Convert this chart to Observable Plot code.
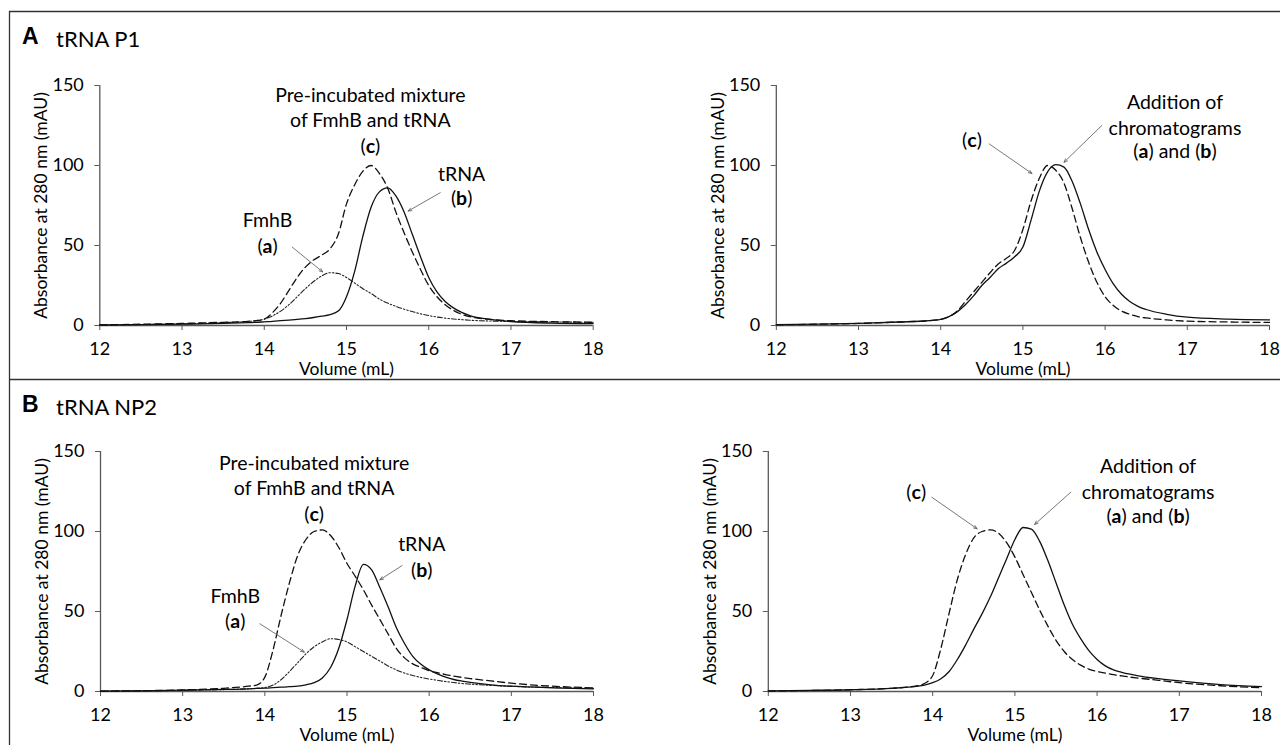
<!DOCTYPE html>
<html>
<head>
<meta charset="utf-8">
<script src="https://cdn.jsdelivr.net/npm/d3@7"></script>
<script src="https://cdn.jsdelivr.net/npm/@observablehq/plot@0.6"></script>
<style>
  html, body { margin: 0; padding: 0; background: #fff; }
  #root { position: relative; width: 1280px; height: 745px; overflow: hidden; background: #fff; }
  #root svg.plot { position: absolute; overflow: visible; }
  g[aria-label$="tick"] { stroke: #595959; }
  #overlay { position: absolute; left: 0; top: 0; pointer-events: none; }
</style>
</head>
<body>
<div id="root"></div>
<script>
// ---------- DATA ----------
const volume = [12, 12.5, 13, 13.5, 13.8, 13.9, 14.0, 14.1, 14.2, 14.3, 14.4, 14.5, 14.6, 14.7, 14.8, 14.9,
  15.0, 15.1, 15.2, 15.3, 15.4, 15.5, 15.6, 15.7, 15.8, 15.9, 16.0, 16.1, 16.2, 16.3, 16.4, 16.5, 16.75, 17, 17.5, 18];
const xTicks = [12, 13, 14, 15, 16, 17, 18];
const yTicks = [0, 50, 100, 150];

// Panel A (tRNA P1), left: FmhB (a), tRNA (b), pre-incubated mixture (c)
const A_left_a = [0.3, 0.6, 1, 1.8, 2.5, 3, 4, 6, 9, 13, 18, 23, 27.5, 31, 33, 32.5, 30, 26.5, 23, 20, 16.5, 14, 12, 10.2, 8.7, 7.3, 6.2, 5.3, 4.6, 4.1, 3.7, 3.3, 2.8, 2.5, 2.2, 2];
const A_left_b = [0.3, 0.5, 0.8, 1.3, 1.8, 2, 2.3, 2.6, 3, 3.4, 3.8, 4.3, 5, 5.8, 6.8, 9, 18, 34, 56, 74, 83.5, 86, 81, 71, 57, 43, 30, 21, 15, 11, 8.2, 6.2, 3.8, 2.5, 1.5, 1.2];
const A_left_c = [0.4, 0.8, 1.3, 2, 2.6, 3, 4, 8, 14, 22, 30, 36.5, 41, 44, 48, 57, 76, 88, 96.5, 100, 95, 86, 71, 58, 46, 35, 25, 18, 13, 9.5, 7, 5.5, 3.8, 3, 2.4, 2];
// Panel A, right: (c) and addition of (a)+(b)
const A_right_c = [0.4, 0.8, 1.3, 2.2, 2.8, 3.2, 3.8, 5.5, 9, 15, 21, 27, 33, 38.5, 42, 47, 60, 78, 92, 100, 97, 89, 73, 55, 39.5, 27, 18, 12.5, 9, 7, 5.5, 4.7, 3.5, 2.7, 2.2, 1.9];
const A_right_ab = [0.5, 0.8, 1.3, 2.2, 2.8, 3.2, 3.8, 5.5, 8.5, 13, 18.5, 25, 30, 35.5, 39, 43, 49, 66, 84, 96, 100.5, 99, 90, 76, 60, 46, 35, 26, 19.5, 15, 12, 10, 7, 5.2, 4, 3.5];
// Panel B (tRNA NP2), left
const B_left_a = [0.2, 0.4, 0.7, 1.2, 1.7, 2, 2.5, 4, 7.5, 12.5, 18, 23.5, 28, 31, 33, 32.5, 31, 28, 25, 22, 19, 16, 13.5, 11.5, 10, 8.8, 7.8, 7, 6.2, 5.6, 5, 4.6, 3.8, 3.2, 2.5, 2];
const B_left_b = [0.2, 0.4, 0.8, 1.3, 1.7, 1.9, 2.1, 2.4, 2.7, 3, 3.4, 4.2, 5.5, 8.5, 15, 27, 45, 66, 79.5, 76, 65, 53, 40, 30, 22, 17, 13.5, 11, 9, 7.5, 6.5, 5.7, 4.2, 3.3, 2.3, 1.7];
const B_left_c = [0.2, 0.5, 1, 2, 3.3, 4, 9, 26, 48, 68, 85, 95, 100, 101, 97.5, 90, 80, 72, 63.5, 54, 45, 36, 27, 21, 17.3, 15, 13, 11.8, 10.6, 9.6, 8.8, 8.1, 6.6, 5.2, 3.3, 2.3];
// Panel B, right
const B_right_c = [0.3, 0.6, 1.1, 2, 3.5, 5, 10, 27, 49, 70, 85.5, 96, 100, 101, 99, 93, 84, 73, 62, 51, 41, 32, 25, 20, 16.5, 14, 12.5, 11.5, 10.5, 9.7, 9, 8.4, 7, 5.5, 3.6, 2.3];
const B_right_ab = [0.4, 0.7, 1.1, 2, 3.2, 4, 5.5, 8, 12.5, 20, 29, 39, 48.5, 59, 71, 83, 95, 102.5, 101.5, 94, 82, 68, 54, 42, 33, 25.5, 20, 16, 13.5, 12, 10.8, 9.8, 8, 6.6, 4.3, 3.1];

// Annotation labels (data coordinates)
const A_left_labels = [
  {x: 15.29, y: 143.5, t: "Pre-incubated mixture"},
  {x: 15.29, y: 128, t: "of FmhB and tRNA"},
  {x: 15.29, y: 112, t: "(c)"},
  {x: 16.40, y: 94, t: "tRNA"},
  {x: 16.40, y: 79, t: "(b)"},
  {x: 14.04, y: 65.5, t: "FmhB"},
  {x: 14.04, y: 49.5, t: "(a)"}
];
const A_left_arrows = [
  {x1: 16.14, y1: 83, x2: 15.75, y2: 71.5},
  {x1: 14.34, y1: 49, x2: 14.71, y2: 33.5}
];
const A_right_labels = [
  {x: 16.85, y: 139, t: "Addition of"},
  {x: 16.85, y: 123, t: "chromatograms"},
  {x: 16.85, y: 108.3, t: "(a) and (b)"},
  {x: 14.38, y: 115.6, t: "(c)"}
];
const A_right_arrows = [
  {x1: 14.59, y1: 113.5, x2: 15.11, y2: 95},
  {x1: 15.96, y1: 125, x2: 15.50, y2: 102}
];
const B_left_labels = [
  {x: 14.60, y: 142.3, t: "Pre-incubated mixture"},
  {x: 14.60, y: 126.7, t: "of FmhB and tRNA"},
  {x: 14.60, y: 110.4, t: "(c)"},
  {x: 15.91, y: 91.9, t: "tRNA"},
  {x: 15.91, y: 75.6, t: "(b)"},
  {x: 13.64, y: 59, t: "FmhB"},
  {x: 13.64, y: 43.3, t: "(a)"}
];
const B_left_arrows = [
  {x1: 15.67, y1: 78.7, x2: 15.40, y2: 69.8},
  {x1: 13.94, y1: 42.3, x2: 14.48, y2: 24.6}
];
const B_right_labels = [
  {x: 16.62, y: 140.2, t: "Addition of"},
  {x: 16.62, y: 124.2, t: "chromatograms"},
  {x: 16.62, y: 109, t: "(a) and (b)"},
  {x: 13.80, y: 124.2, t: "(c)"}
];
const B_right_arrows = [
  {x1: 13.99, y1: 121.4, x2: 14.54, y2: 101.7},
  {x1: 15.68, y1: 124.6, x2: 15.24, y2: 104.4}
];
const yLabel = "Absorbance at 280 nm (mAU)";
const xLabel = "Volume (mL)";

// ---------- STYLES ----------
const FONT = "Lato, 'Open Sans', 'DejaVu Sans', sans-serif";
const solid = {stroke: "#111", strokeWidth: 1.3};
const dashed = {stroke: "#111", strokeWidth: 1.3, strokeDasharray: "7,4"};
const dashdot = {stroke: "#222", strokeWidth: 1.1, strokeDasharray: "5,2,1.5,2,1.5,2"};

const rows = arr => volume.map((v, i) => ({x: v, y: arr[i]}));

function panel({series, labels, arrows, left, top, width, height, mL, mR, mT, mB}) {
  const marks = [
    Plot.ruleY([0], {stroke: "#595959", strokeWidth: 1.3}),
    Plot.ruleX([12], {stroke: "#595959", strokeWidth: 1.3}),
    Plot.axisX({ticks: xTicks, tickSize: 5, tickPadding: 12, label: null, tickFormat: d => d, fill: "#000"}),
    Plot.axisY({ticks: yTicks, tickSize: 5, tickPadding: 11, label: null, tickFormat: d => d, fill: "#000"}),
    ...series.map(([arr, st]) => Plot.line(rows(arr), {x: "x", y: "y", curve: "monotone-x", ...st})),
    Plot.arrow(arrows, {x1: "x1", y1: "y1", x2: "x2", y2: "y2", stroke: "#555", strokeWidth: 0.8, headLength: 7, headAngle: 45}),
    Plot.text(labels, {x: "x", y: "y", text: "t", fontSize: 19.5, fill: "#000"}),
    Plot.text([yLabel], {frameAnchor: "left", dx: -58, rotate: -90, textAnchor: "middle", lineAnchor: "middle", fontSize: 17.5, fill: "#000"}),
    Plot.text([xLabel], {frameAnchor: "bottom", dy: 44, textAnchor: "middle", lineAnchor: "middle", fontSize: 17.5, fill: "#000"})
  ];
  const svg = Plot.plot({
    width, height,
    marginLeft: mL, marginRight: mR, marginTop: mT, marginBottom: mB,
    style: {fontFamily: FONT, fontSize: "18px", color: "#000", background: "transparent", overflow: "visible"},
    x: {domain: [12, 18]},
    y: {domain: [0, 150]},
    marks
  });
  svg.classList.add("plot");
  svg.style.left = left + "px";
  svg.style.top = top + "px";
  // bold letters inside parentheses
  svg.querySelectorAll('g[aria-label="text"] text').forEach(t => {
    const s = t.textContent;
    if (!/\([abc]\)/.test(s)) return;
    t.textContent = "";
    s.split(/(\([abc]\))/).forEach(part => {
      if (!part) return;
      const m = part.match(/^\(([abc])\)$/);
      const add = (txt, bold) => {
        const ts = document.createElementNS("http://www.w3.org/2000/svg", "tspan");
        ts.textContent = txt;
        if (bold) ts.setAttribute("font-weight", "bold");
        t.appendChild(ts);
      };
      if (m) { add("("); add(m[1], true); add(")"); } else add(part);
    });
  });
  return svg;
}

const root = document.getElementById("root");
root.appendChild(panel({
  series: [[A_left_a, dashdot], [A_left_c, dashed], [A_left_b, solid]],
  labels: A_left_labels, arrows: A_left_arrows,
  left: 0, top: 0, width: 640, height: 379, mL: 99.3, mR: 47.3, mT: 85, mB: 54
}));
root.appendChild(panel({
  series: [[A_right_c, dashed], [A_right_ab, solid]],
  labels: A_right_labels, arrows: A_right_arrows,
  left: 640, top: 0, width: 640, height: 379, mL: 135.8, mR: 11, mT: 85, mB: 54
}));
root.appendChild(panel({
  series: [[B_left_a, dashdot], [B_left_c, dashed], [B_left_b, solid]],
  labels: B_left_labels, arrows: B_left_arrows,
  left: 0, top: 379, width: 640, height: 366, mL: 100, mR: 47, mT: 72, mB: 54
}));
root.appendChild(panel({
  series: [[B_right_c, dashed], [B_right_ab, solid]],
  labels: B_right_labels, arrows: B_right_arrows,
  left: 640, top: 379, width: 640, height: 366, mL: 127.8, mR: 19, mT: 72, mB: 54
}));

// ---------- frame & panel titles ----------
const ov = d3.select(root).append("svg").attr("id", "overlay").attr("width", 1280).attr("height", 745);
ov.append("path").attr("d", "M9.5,745V11.5H1280").attr("fill", "none").attr("stroke", "#333").attr("stroke-width", 1.3);
ov.append("path").attr("d", "M9.5,379.5H1280").attr("fill", "none").attr("stroke", "#333").attr("stroke-width", 1.3);
const titles = [
  {letter: "A", name: "tRNA P1", y: 0},
  {letter: "B", name: "tRNA NP2", y: 368}
];
titles.forEach(tt => {
  ov.append("text").attr("x", 22).attr("y", 44 + tt.y).attr("font-family", "'Liberation Sans', Arial, sans-serif")
    .attr("font-weight", "bold").attr("font-size", 23).text(tt.letter);
  ov.append("text").attr("x", 56).attr("y", 47 + tt.y).attr("font-family", FONT)
    .attr("font-size", 22).text(tt.name);
});
</script>
</body>
</html>
